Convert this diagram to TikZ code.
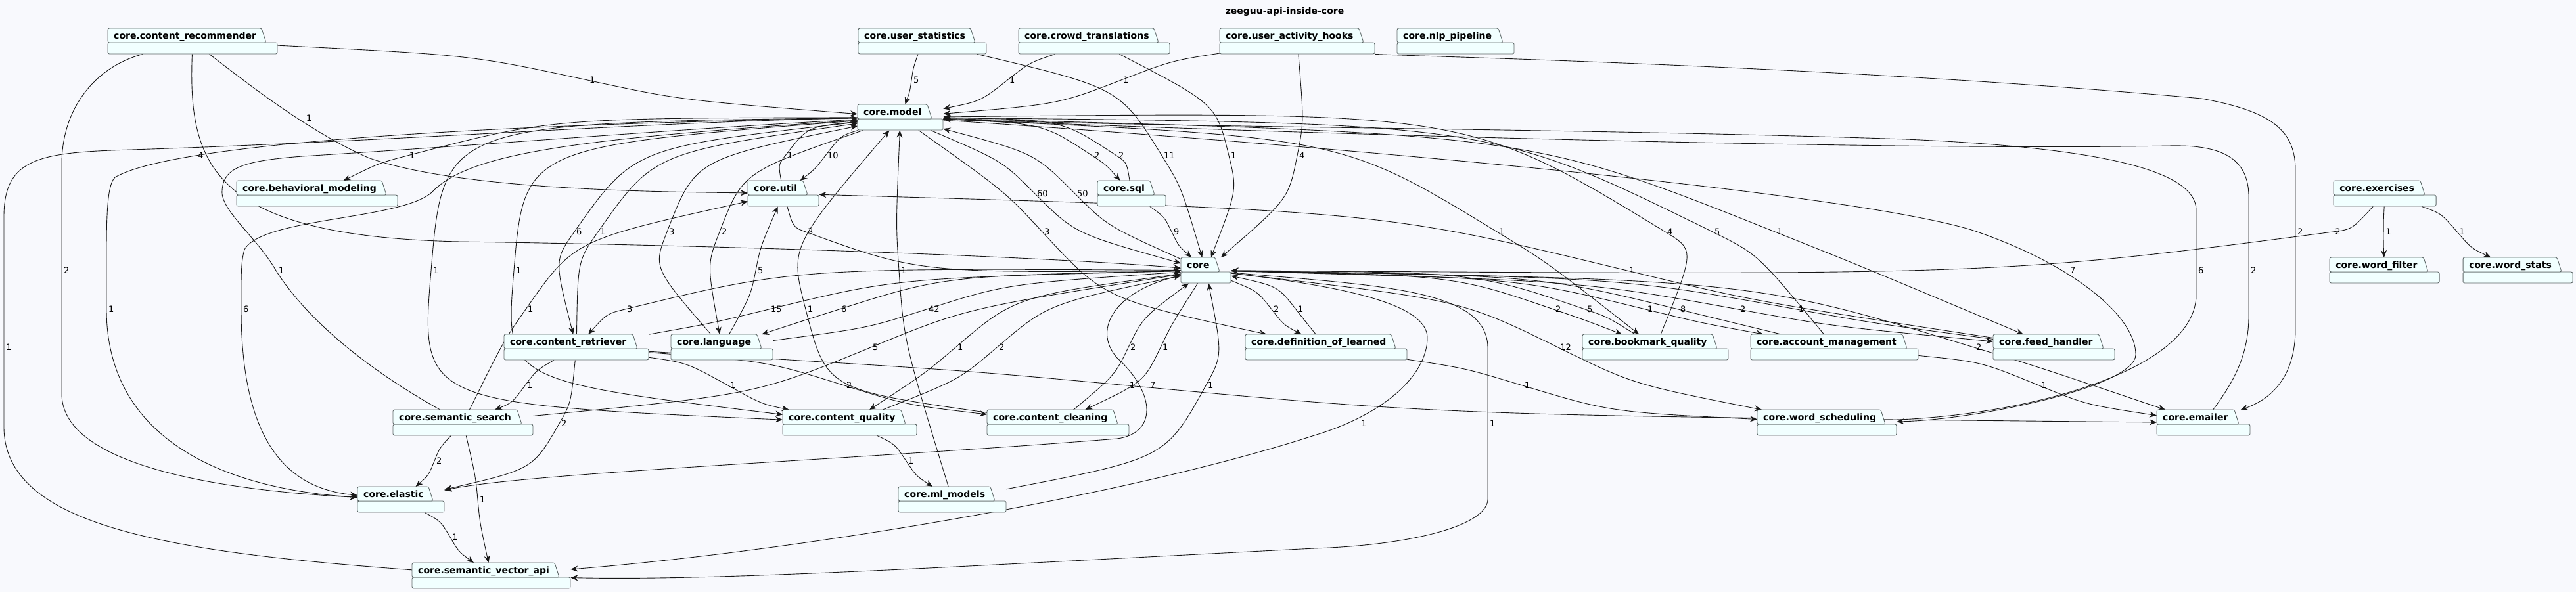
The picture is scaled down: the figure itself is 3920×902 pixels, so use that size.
\documentclass[tikz,border=0pt]{standalone}
\usepackage{fontspec}
\setmainfont{DejaVu Sans}
\usetikzlibrary{arrows.meta, calc, backgrounds}
\definecolor{pagebg}{RGB}{248,249,253}
\definecolor{pkgfill}{RGB}{241,255,255}
\definecolor{pkgdraw}{RGB}{94,104,104}
\definecolor{depcol}{RGB}{24,24,24}
\pgfdeclarelayer{edgelayer}
\pgfsetlayers{background,edgelayer,main}
\tikzset{
  pkgline/.style={draw=pkgdraw, fill=pkgfill, line width=0.9pt, rounded corners=2.5pt},
  pkgtext/.style={font=\fontsize{14}{16}\selectfont\bfseries, inner sep=0pt, anchor=base west},
  pkgarea/.style={draw=none, inner sep=0pt, anchor=north west, minimum height=39pt},
  dep/.style={draw=depcol, line width=0.9pt, -{Stealth[length=11pt, width=9pt, inset=3.5pt]}},
  deplabel/.style={font=\fontsize{13}{15}\selectfont, inner sep=0pt, anchor=west},
}
% package: name, left, top, right, label
\newcommand{\pkg}[5]{%
  \draw[pkgline] (#2,#3+22) rectangle (#4,#3+39);
  \draw[pkgline] (#2,#3+22) -- (#2,#3) -- (#4-24,#3) -- (#4-17,#3+22) -- cycle;
  \node[pkgtext] (#1txt) at (#2+9,#3+16) {#5};
  \node[pkgarea, minimum width=#4-#2] (#1) at (#2,#3) {};
}

\begin{document}
\begin{tikzpicture}[x=1pt, y=-1pt]
  \begin{pgfonlayer}{background}
    \fill[pagebg] (0,0) rectangle (3920,902);
  \end{pgfonlayer}
  \useasboundingbox (0,0) rectangle (3920,902);

  \node[font=\fontsize{14}{16}\selectfont\bfseries] (title) at (1955,18) {zeeguu-api-inside-core};

  \pkg{cr}{164}{43}{422}{core.content\_recommender}
  \pkg{ustat}{1306}{43}{1501}{core.user\_statistics}
  \pkg{crowd}{1550}{43}{1780}{core.crowd\_translations}
  \pkg{uah}{1856}{43}{2092}{core.user\_activity\_hooks}
  \pkg{nlp}{2126}{43}{2304}{core.nlp\_pipeline}
  \pkg{model}{1305}{159}{1435}{core.model}
  \pkg{behav}{360}{275}{605}{core.behavioral\_modeling}
  \pkg{util}{1138}{275}{1246}{core.util}
  \pkg{sql}{1670}{275}{1774}{core.sql}
  \pkg{exer}{3551}{275}{3707}{core.exercises}
  \pkg{core}{1797}{392}{1873}{core}
  \pkg{wfilter}{3545}{392}{3712}{core.word\_filter}
  \pkg{wstats}{3748}{392}{3915}{core.word\_stats}
  \pkg{cret}{767}{509}{987}{core.content\_retriever}
  \pkg{lang}{1021}{509}{1176}{core.language}
  \pkg{defl}{1895}{509}{2141}{core.definition\_of\_learned}
  \pkg{bmq}{2408}{509}{2630}{core.bookmark\_quality}
  \pkg{acct}{2664}{509}{2919}{core.account\_management}
  \pkg{feed}{3033}{509}{3218}{core.feed\_handler}
  \pkg{ssearch}{598}{624}{811}{core.semantic\_search}
  \pkg{cqual}{1191}{624}{1395}{core.content\_quality}
  \pkg{cclean}{1502}{624}{1718}{core.content\_cleaning}
  \pkg{wsched}{2674}{624}{2886}{core.word\_scheduling}
  \pkg{emailer}{3282}{624}{3424}{core.emailer}
  \pkg{elastic}{544}{741}{676}{core.elastic}
  \pkg{mlm}{1367}{741}{1531}{core.ml\_models}
  \pkg{sva}{627}{857}{868}{core.semantic\_vector\_api}

  \begin{pgfonlayer}{edgelayer}
  \foreach \sn/\tn/\lx/\ly/\lab [count=\k] in {
    cr/model/901/122/1,
    ustat/model/1394/122/5, ustat/core/1775/237/11, crowd/model/1540/122/1, crowd/core/1877/237/1,
    uah/model/1713/122/1, uah/core/1981/237/4,
    model/behav/627/237/1, util/model/1202/237/1, model/util/1263/237/10,
    model/sql/1669/237/2, sql/model/1706/237/2, model/core/1582/295/60, core/model/1643/295/50,
    model/cret/881/353/6, cret/model/917/353/1, lang/model/1022/353/3, model/lang/1102/353/2,
    model/defl/1593/353/3, model/bmq/2285/353/1, bmq/model/2541/353/4, acct/model/2613/353/5,
    model/feed/2708/353/1, model/cqual/663/412/1, model/cqual/789/412/1,
    mlm/model/1375/412/1, cclean/model/1233/471/1,
    util/core/1233/353/3, ssearch/util/807/471/1, lang/util/1157/412/5, feed/util/2483/412/1,
    sql/core/1790/353/9, exer/core/3557/353/2, exer/wfilter/3634/353/1, exer/wstats/3746/353/1,
    core/cret/958/471/3, cret/core/1177/471/15, core/lang/1284/471/6, lang/core/1417/471/42,
    core/defl/1942/471/2, defl/core/1979/471/1, core/bmq/2371/471/2, bmq/core/2419/471/5,
    core/acct/2511/471/1, acct/core/2561/471/8, core/feed/2652/471/2, feed/core/2741/471/1,
    ssearch/core/1332/529/5, core/cqual/1461/529/1, cqual/core/1524/529/2, cclean/core/1724/529/2,
    core/cclean/1773/529/1, core/wsched/2378/529/12, core/emailer/3011/529/2,
    mlm/core/1842/587/1,
    cret/ssearch/806/587/1, cret/cqual/1115/587/1, cret/cclean/1292/587/2, cret/emailer/1723/587/1,
    cret/elastic/858/645/2, defl/wsched/2324/587/1, acct/emailer/3110/587/1,
    ssearch/elastic/668/702/2, ssearch/sva/734/761/1, elastic/sva/692/818/1, cqual/mlm/1386/702/1} {
    \draw[dep] let \p1=(\sn), \p2=(\tn), \p3=(\lx-7,\ly),
        \n1={veclen(\x3-\x1,\y3-\y1)}, \n2={veclen(\x2-\x3,\y2-\y3)} in
      (\sn) .. controls ($(\p3)!{0.3*\n1*1pt}!(\x3-0.5*\x2+0.5*\x1,\y3-\y2+\y1)$) .. (\p3)
            .. controls ($(\p3)!{0.3*\n2*1pt}!(\x3+0.5*\x2-0.5*\x1,\y3+\y2-\y1)$) .. (\tn);
    \node[deplabel] (lab\k) at (\lx-4,\ly) {\lab};
  }

  % long detours
  \draw[dep] (cr) .. controls (380,130) and (470,200) .. (560,240)
    .. controls (700,290) and (1000,292) .. (util);
  \node[deplabel] (labcrutil) at (466,180) {1};
  \draw[dep] (cr) .. controls (286,250) and (320,360) .. (700,368)
    .. controls (1200,375) and (1650,395) .. (core);
  \node[deplabel] (labcrcore) at (301,237) {4};
  \draw[dep] (cr) .. controls (150,100) and (94,160) .. (94,250) -- (94,600)
    .. controls (94,700) and (300,745) .. (elastic);
  \node[deplabel] (labcrel) at (97,412) {2};
  \draw[dep] (model) .. controls (700,190) and (260,220) .. (175,270)
    .. controls (160,285) and (162,350) .. (162,471)
    .. controls (162,690) and (380,748) .. (elastic);
  \node[deplabel] (labmel1) at (165,471) {1};
  \draw[dep] (model) .. controls (900,210) and (720,230) .. (660,290)
    .. controls (620,335) and (400,330) .. (372,380)
    .. controls (366,400) and (367,430) .. (367,471)
    .. controls (367,690) and (450,745) .. (elastic);
  \node[deplabel] (labmel6) at (370,471) {6};
  \draw[dep] (sva) .. controls (250,840) and (6,800) .. (6,650) -- (6,330)
    .. controls (6,240) and (60,232) .. (200,228)
    .. controls (600,215) and (1000,185) .. (model);
  \node[deplabel] (labsvam) at (9,529) {1};
  \draw[dep] (ssearch) .. controls (520,540) and (450,460) .. (420,412)
    .. controls (390,360) and (335,320) .. (338,290)
    .. controls (340,255) and (370,245) .. (460,238)
    .. controls (750,220) and (1050,195) .. (model);
  \node[deplabel] (labssm) at (424,412) {1};
  \draw[dep] (core) .. controls (2080,440) and (2175,470) .. (2172,517)
    .. controls (2170,570) and (2110,630) .. (2000,663)
    .. controls (1700,760) and (1200,840) .. (sva);
  \node[deplabel] (labcsva1) at (2071,645) {1};
  \draw[dep] (core) .. controls (2100,435) and (2264,440) .. (2264,530) -- (2264,760)
    .. controls (2264,800) and (2150,830) .. (2000,835)
    .. controls (1500,860) and (1100,885) .. (sva);
  \node[deplabel] (labcsva2) at (2267,645) {1};
  \draw[dep] (core) .. controls (1700,440) and (1660,500) .. (1700,545)
    .. controls (1760,600) and (1760,660) .. (1700,668)
    .. controls (1300,700) and (800,720) .. (elastic);
  \node[deplabel] (labcel) at (1750,587) {7};
  \draw[dep] (uah.south east) .. controls (2150,86) and (2800,100) .. (3350,150)
    .. controls (3460,170) and (3493,200) .. (3493,260) -- (3493,500)
    .. controls (3493,580) and (3450,610) .. (emailer);
  \node[deplabel] (labuahem) at (3496,353) {2};
  \draw[dep] (model) .. controls (2000,220) and (2800,290) .. (3000,350)
    .. controls (3150,400) and (3250,480) .. (3250,540)
    .. controls (3250,590) and (3000,640) .. (wsched);
  \node[deplabel] (labmws) at (3150,412) {7};
  \draw[dep] (wsched) .. controls (3100,630) and (3340,560) .. (3342,450) -- (3342,320)
    .. controls (3342,260) and (3200,225) .. (2900,212)
    .. controls (2400,195) and (1800,195) .. (model);
  \node[deplabel] (labwsm) at (3345,412) {6};
  \draw[dep] (emailer) .. controls (3400,580) and (3422,540) .. (3422,480) -- (3422,300)
    .. controls (3422,240) and (3380,220) .. (3300,222)
    .. controls (2900,230) and (2000,205) .. (model);
  \node[deplabel] (labemm) at (3425,412) {2};
  \end{pgfonlayer}
\end{tikzpicture}
\end{document}
